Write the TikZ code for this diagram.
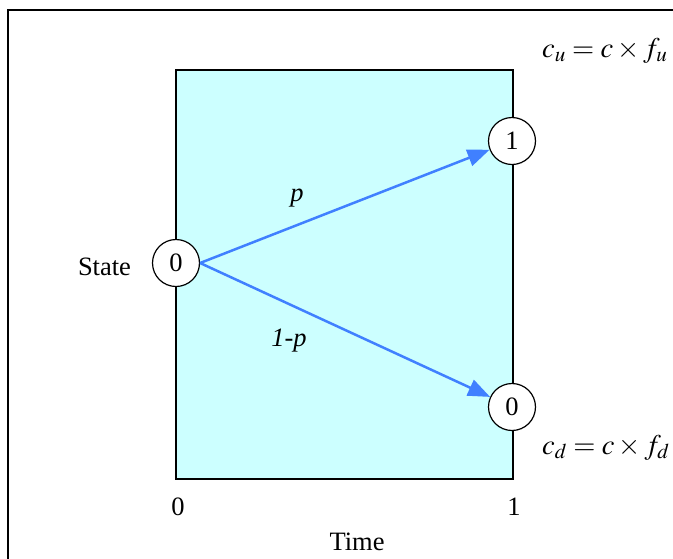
\documentclass[tikz,border=0pt]{standalone}
\usepackage{mathptmx}
\usepackage{fontspec}
\setmainfont{Liberation Serif}
\usetikzlibrary{arrows.meta}
\definecolor{boxfill}{HTML}{CCFFFF}
\definecolor{arrowblue}{HTML}{4080FF}
\begin{document}
\begin{tikzpicture}[x=1pt,y=-1pt,
  every node/.style={font=\fontsize{26.5}{30}\selectfont},
  statenode/.style={circle,draw,line width=1.2pt,fill=white,minimum size=47pt,inner sep=0pt},
  flow/.style={arrowblue,line width=2.5pt,-{Triangle[length=22pt,width=17pt]}},
  lbl/.style={inner sep=0pt},
  formula/.style={inner sep=0pt,anchor=base west,font=\fontsize{28.5}{32}\selectfont}]
\useasboundingbox (0,0) rectangle (673,558);
\clip (0,0) rectangle (673,558);
\draw[line width=1.2pt] (8,10) rectangle (700,600);
\draw[line width=1.5pt, fill=boxfill] (176,70) rectangle (513,479);
\node[statenode] (s0) at (176,263) {0};
\node[statenode] (up) at (512,141) {1};
\node[statenode] (dn) at (512,407) {0};
\draw[flow] (s0.east) -- (up);
\draw[flow] (s0.east) -- (dn);
\node[lbl] (lp) at (297,198) {\textit{p}};
\node[lbl,anchor=base] (lq) at (289,346) {\textit{1-p}};
\node[lbl,anchor=base] (st) at (104.5,275) {State};
\node[lbl,anchor=base] (t0) at (178,515) {0};
\node[lbl,anchor=base] (t1) at (514,515) {1};
\node[lbl,anchor=base] (tm) at (357,550) {Time};
\node[formula] (cu) at (542,57) {$c_u = c \times f_u$};
\node[formula] (cd) at (542,454) {$c_d = c \times f_d$};
\end{tikzpicture}
\end{document}
